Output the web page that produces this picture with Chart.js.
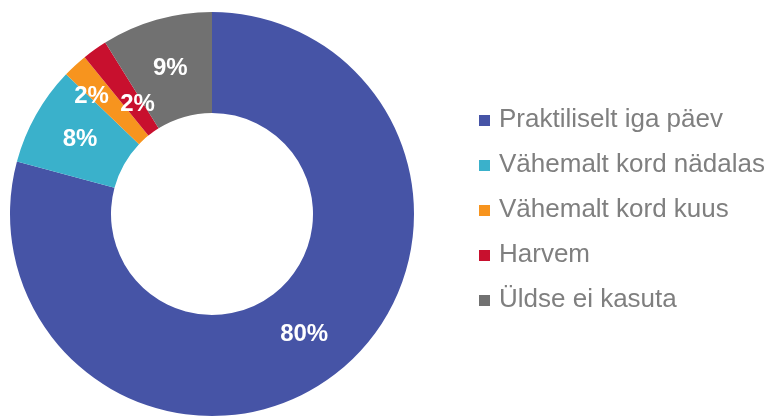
<!DOCTYPE html>
<html>
<head>
<meta charset="utf-8">
<style>
  html, body { margin: 0; padding: 0; background: #ffffff; }
  #wrap { width: 773px; height: 417px; }
</style>
<script src="https://cdn.jsdelivr.net/npm/chart.js@4.4.0/dist/chart.umd.min.js"></script>
</head>
<body>
<div id="wrap"><canvas id="c" width="773" height="417"></canvas></div>
<script>
const categories = ["Praktiliselt iga päev", "Vähemalt kord nädalas", "Vähemalt kord kuus", "Harvem", "Üldse ei kasuta"];
const values = [79.5, 8.0, 2.0, 2.0, 8.9];
const valueLabels = ["80%", "8%", "2%", "2%", "9%"];
const colors = ["#4654A6", "#3AB1CB", "#F7941E", "#C8102E", "#717171"];
const labelShiftR = [0, 0, 17, -19, 0];
const labelShiftA = [0, 0, -3, 1.3, 0];

const sliceLabels = {
  id: 'sliceLabels',
  afterDatasetsDraw(chart) {
    const ctx = chart.ctx;
    const meta = chart.getDatasetMeta(0);
    ctx.save();
    ctx.font = 'bold 24px "Liberation Sans", Arial, sans-serif';
    ctx.fillStyle = '#ffffff';
    ctx.textAlign = 'center';
    ctx.textBaseline = 'middle';
    meta.data.forEach((arc, i) => {
      const p = arc.getProps(['x', 'y', 'startAngle', 'endAngle', 'innerRadius', 'outerRadius'], true);
      const a = (p.startAngle + p.endAngle) / 2 + labelShiftA[i] * Math.PI / 180;
      const r = (p.innerRadius + p.outerRadius) / 2 + labelShiftR[i];
      ctx.fillText(valueLabels[i], p.x + Math.cos(a) * r, p.y + Math.sin(a) * r);
    });
    ctx.restore();
  }
};

const sideLegend = {
  id: 'sideLegend',
  afterDraw(chart) {
    const ctx = chart.ctx;
    ctx.save();
    ctx.font = '26px "Liberation Sans", Arial, sans-serif';
    ctx.textBaseline = 'middle';
    ctx.textAlign = 'left';
    const x0 = 479, y0 = 120, step = 45;
    categories.forEach((name, i) => {
      const y = y0 + i * step;
      ctx.fillStyle = colors[i];
      ctx.fillRect(x0, y - 5, 11, 11);
      ctx.fillStyle = '#7F7F7F';
      ctx.fillText(name, x0 + 20, y);
    });
    ctx.restore();
  }
};

new Chart(document.getElementById('c'), {
  type: 'doughnut',
  data: {
    labels: categories,
    datasets: [{
      data: values,
      backgroundColor: colors,
      borderWidth: 0
    }]
  },
  options: {
    responsive: false,
    animation: false,
    devicePixelRatio: 1,
    cutout: '50%',
    layout: { padding: { left: 10, right: 359, top: 12, bottom: 1 } },
    plugins: {
      legend: { display: false },
      tooltip: { enabled: false }
    }
  },
  plugins: [sliceLabels, sideLegend]
});
</script>
</body>
</html>
